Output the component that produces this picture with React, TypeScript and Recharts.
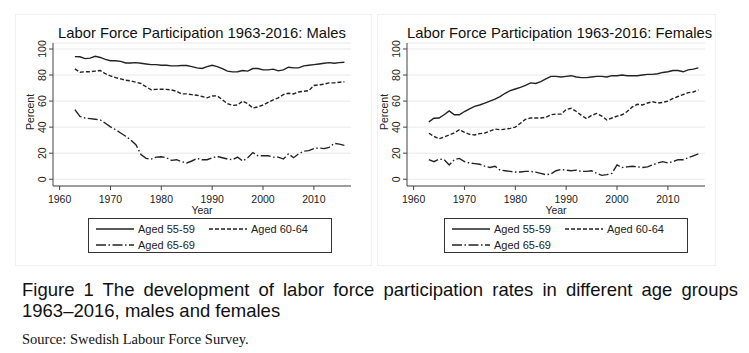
import { LineChart, Line, XAxis, YAxis, CartesianGrid } from "recharts"

const YEARS = [
  1963, 1964, 1965, 1966, 1967, 1968, 1969, 1970, 1971, 1972,
  1973, 1974, 1975, 1976, 1977, 1978, 1979, 1980, 1981, 1982,
  1983, 1984, 1985, 1986, 1987, 1988, 1989, 1990, 1991, 1992,
  1993, 1994, 1995, 1996, 1997, 1998, 1999, 2000, 2001, 2002,
  2003, 2004, 2005, 2006, 2007, 2008, 2009, 2010, 2011, 2012,
  2013, 2014, 2015, 2016,
]

const MALE_55_59 = [
  94.1, 94, 92.6, 93, 94.4, 93.5, 92, 91, 91, 90.5,
  89.3, 89.3, 89.5, 89, 88.5, 88, 88, 87.5, 87.5, 87,
  87, 87.3, 87.3, 86.5, 85.5, 85, 86.5, 87.5, 86.5, 85,
  83, 82.4, 82.5, 83.5, 83, 85, 85, 84, 84, 84.5,
  83.2, 84, 86, 85.5, 85.5, 87, 87.5, 88, 88.5, 89,
  89.5, 89, 89.5, 89.8,
]
const MALE_60_64 = [
  84.7, 82.2, 82.5, 82.5, 83, 83.5, 81, 79.4, 78, 77,
  76, 75.5, 74.5, 73.5, 71, 68.7, 69, 69.2, 69, 68.5,
  67.5, 65.5, 65.5, 65, 64.5, 63.5, 62.5, 63.9, 64, 61,
  58, 56.7, 57, 60, 58, 54.7, 55.5, 57, 59, 61,
  62.5, 65, 66, 65.5, 67, 67.5, 68, 72, 72.5, 73,
  74, 74, 74.5, 74.8,
]
const MALE_65_69 = [
  53.4, 48.3, 47, 46.5, 46, 45.5, 43, 40.2, 38, 35.5,
  33, 30, 26.5, 19, 16, 15.5, 17, 17.3, 16.5, 14.5,
  15, 13.5, 12.5, 14, 16, 15, 15, 16.5, 17.5, 16.5,
  15.5, 15, 17, 14, 16.5, 20.5, 18, 18, 18, 17,
  17, 15.5, 19.5, 16.5, 19.5, 21.5, 22, 23.5, 24, 23.5,
  24.5, 27.5, 27, 26,
]

const FEMALE_55_59 = [
  44, 46.8, 47, 49.5, 52.4, 49.5, 49.5, 52, 54, 56,
  57, 58.5, 60, 61.5, 63.5, 66, 68, 69.3, 70.5, 72,
  74, 73.5, 75, 77, 79, 79, 78.5, 79, 79.5, 78.5,
  78, 78, 78.5, 79, 79, 78.5, 79.5, 79.5, 80, 79.5,
  79.5, 79.5, 80, 80.5, 80.5, 81, 82, 82.5, 83.5, 83.5,
  82.5, 84, 84.5, 85.5,
]
const FEMALE_60_64 = [
  35.3, 33, 31, 32.5, 34, 35.5, 38, 36, 34.5, 34,
  35, 35.5, 37, 38.5, 38, 38.5, 39, 40, 43, 46,
  47, 47, 47, 47.5, 49.5, 50, 50, 53.5, 54.5, 52,
  49, 46.5, 49, 50.5, 48.5, 45.5, 47, 48.5, 49.5, 52,
  55.5, 57.5, 57, 58.5, 59.5, 58.5, 59, 60, 62, 63.5,
  65, 66.5, 67, 68.5,
]
const FEMALE_65_69 = [
  15, 13.5, 15.5, 15, 11, 15, 16, 13.5, 12.5, 12,
  11.5, 10, 9, 10, 7, 6.5, 6, 5.5, 5.5, 6,
  6, 5.5, 4.5, 3.5, 4, 6.5, 7.5, 7, 6.5, 7,
  6, 6, 6.5, 4.5, 3, 3.5, 4.5, 11, 9, 9.5,
  10, 9.5, 9, 9.5, 11, 12.5, 13.5, 12.5, 13.5, 15,
  15, 16.5, 18, 19.5,
]

const X_TICKS = [1960, 1970, 1980, 1990, 2000, 2010]
const Y_TICKS = [0, 20, 40, 60, 80, 100]
const SERIES = [
  { key: "a", name: "Aged 55-59", dash: undefined },
  { key: "b", name: "Aged 60-64", dash: "4 2" },
  { key: "c", name: "Aged 65-69", dash: "10 2.5 1.5 2.5" },
]

const FONT = "'Liberation Sans', Arial, Helvetica, sans-serif"
const INK = "#222"

function buildRows(a: number[], b: number[], c: number[]) {
  return YEARS.map((year, i) => ({ year, a: a[i], b: b[i], c: c[i] }))
}

function YTick(props: any) {
  const { x, y, payload } = props
  return (
    <text
      transform={`translate(${x - 1},${y}) rotate(-90)`}
      textAnchor="middle"
      fontSize={10.5}
      fontFamily={FONT}
      fill={INK}
    >
      {payload.value}
    </text>
  )
}

function LegendBox({ left }: { left: number }) {
  const cols = [
    { x: 8, y: 11, s: SERIES[0] },
    { x: 121, y: 11, s: SERIES[1] },
    { x: 8, y: 27, s: SERIES[2] },
  ]
  return (
    <div
      style={{
        position: "absolute", left, top: 218, width: 244, height: 35,
        border: "1px solid #333", boxSizing: "border-box", background: "#fff",
      }}
    >
      <svg width={244} height={35} style={{ position: "absolute", left: -1, top: -1 }}>
        {cols.map(({ x, y, s }) => (
          <g key={s.key}>
            <line x1={x} x2={x + 38} y1={y} y2={y} stroke={INK} strokeWidth={1.3} strokeDasharray={s.dash} />
            <text x={x + 42} y={y + 3.8} fontSize={11} fontFamily={FONT} fill={INK}>{s.name}</text>
          </g>
        ))}
      </svg>
    </div>
  )
}

function Panel({ left, title, rows, legendLeft }: { left: number; title: string; rows: any[]; legendLeft: number }) {
  return (
    <div style={{ position: "absolute", left, top: 0, width: 375, height: 265 }}>
      <div
        style={{
          position: "absolute", left: 0, top: 26, width: 351, paddingLeft: 53, boxSizing: "border-box",
          textAlign: "center", fontSize: 14.8, lineHeight: "15px", color: "#111", fontFamily: FONT,
        }}
      >
        <span style={{ display: "inline-block", width: 298, whiteSpace: "nowrap" }}>{title}</span>
      </div>
      <LineChart
        width={375}
        height={265}
        data={rows}
        margin={{ top: 43, right: 24, bottom: 53, left: 23 }}
        style={{ position: "absolute", left: 0, top: 0 }}
      >
        <CartesianGrid horizontal vertical={false} stroke="#e9e9e9" strokeWidth={1} />
        <XAxis
          dataKey="year"
          type="number"
          domain={[1958.7, 2017.3]}
          allowDataOverflow
          ticks={X_TICKS}
          interval={0}
          height={26}
          tickSize={4}
          tickMargin={6}
          stroke="#444"
          tick={{ fontSize: 10.5, fill: INK, fontFamily: FONT }}
          label={{ value: "Year", position: "insideBottom", offset: -2, fontSize: 10.5, fill: INK, fontFamily: FONT }}
        />
        <YAxis
          type="number"
          domain={[-5.2, 104.6]}
          allowDataOverflow
          ticks={Y_TICKS}
          interval={0}
          width={30}
          tickSize={4}
          tickMargin={2}
          stroke="#444"
          tick={<YTick />}
          label={{
            content: () => (
              <text
                transform="translate(33.5,112) rotate(-90)"
                textAnchor="middle"
                fontSize={10.5}
                fontFamily={FONT}
                fill={INK}
              >
                Percent
              </text>
            ),
          }}
        />
        {SERIES.map((s) => (
          <Line
            key={s.key}
            dataKey={s.key}
            name={s.name}
            type="linear"
            stroke={INK}
            strokeWidth={1.4}
            strokeDasharray={s.dash}
            dot={false}
            isAnimationActive={false}
          />
        ))}
      </LineChart>
      <LegendBox left={legendLeft} />
    </div>
  )
}

export default function App() {
  const male = buildRows(MALE_55_59, MALE_60_64, MALE_65_69)
  const female = buildRows(FEMALE_55_59, FEMALE_60_64, FEMALE_65_69)
  return (
    <div
      style={{
        position: "absolute", left: 0, top: 0, width: 749, height: 353,
        background: "#fff", overflow: "hidden",
      }}
    >
      <div style={{ position: "absolute", left: 15, top: 14, width: 355, height: 250, border: "1px solid #f0f0f0" }} />
      <div style={{ position: "absolute", left: 377, top: 14, width: 337, height: 250, border: "1px solid #f0f0f0" }} />
      <Panel left={0} title="Labor Force Participation 1963-2016: Males" rows={male} legendLeft={88} />
      <Panel left={354} title="Labor Force Participation 1963-2016: Females" rows={female} legendLeft={90} />
      <div
        style={{
          position: "absolute", left: 22, top: 279, width: 716, fontFamily: FONT,
          fontSize: 18.5, lineHeight: "21px", color: "#111",
        }}
      >
        <div style={{ textAlign: "justify", textAlignLast: "justify", whiteSpace: "nowrap" }}>
          Figure 1 The development of labor force participation rates in different age groups
        </div>
        <div>1963–2016, males and females</div>
      </div>
      <div
        style={{
          position: "absolute", left: 22, top: 331, fontFamily: "'Liberation Serif', 'Times New Roman', serif",
          fontSize: 14.5, color: "#111",
        }}
      >
        Source: Swedish Labour Force Survey.
      </div>
    </div>
  )
}
